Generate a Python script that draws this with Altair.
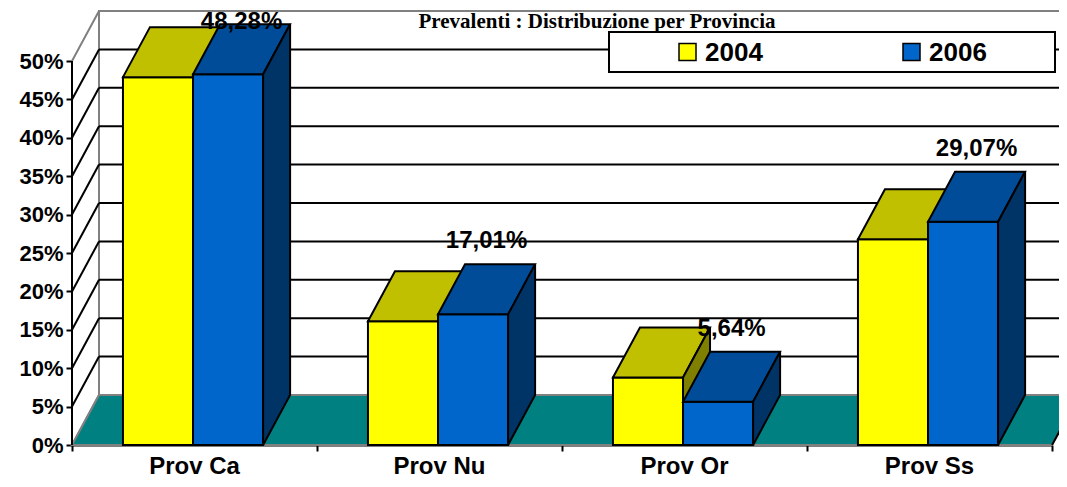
import altair as alt
import pandas as pd

# ---------------- data ----------------
categories = ["Prov Ca", "Prov Nu", "Prov Or", "Prov Ss"]
years = ["2004", "2006"]
values_2004 = [47.9, 16.1, 8.8, 26.8]
values_2006 = [48.28, 17.01, 5.64, 29.07]
labels_2006 = ["48,28%", "17,01%", "5,64%", "29,07%"]
y_ticks = [0, 5, 10, 15, 20, 25, 30, 35, 40, 45, 50]
title_text = "Prevalenti : Distribuzione per Provincia"

# ---------------- geometry / style ----------------
W, H = 980, 437
N = len(categories)
PX_PER_CAT = W / N
PX_PER_PCT = 7.68
Y_TOP = H / PX_PER_PCT
Y_MAX = y_ticks[-1]
BAR_START = 0.208
BAR_W = 0.286
DX = 27 / PX_PER_CAT       # depth offset in category units
DY = 50 / PX_PER_PCT       # depth offset in value units
LABEL_RAISE = 9.5

FACES = {
    "2004": ("#FFFF00", "#C0C000", "#808000"),
    "2006": ("#0066CC", "#004C99", "#003366"),
}
series = {"2004": values_2004, "2006": values_2006}

FONT = "Liberation Sans"

# legend box layout (plot-area pixels)
LEG_X, LEG_Y, LEG_W, LEG_H = 537, 24, 446, 40
LEG_ENTRY = [70, 294]
LEG_SYM = 17
LEG_GAP = 9


def px2x(px):
    return px / PX_PER_CAT


def px2y(py):
    return (H - py) / PX_PER_PCT


xs = alt.Scale(domain=[0, N], nice=False, zero=False)
ys = alt.Scale(domain=[0, Y_TOP], nice=False, zero=False)

x_axis = alt.Axis(values=list(range(N + 1)), labels=False, title=None, grid=False,
                  domainColor="black", domainWidth=2, tickColor="black",
                  tickWidth=2, tickSize=6)
y_axis = alt.Axis(values=y_ticks, labelExpr="datum.value + '%'", title=None, grid=False,
                  domain=False, tickColor="black", tickWidth=2, tickSize=6,
                  labelFont=FONT, labelFontSize=22, labelFontWeight="bold",
                  labelColor="black", labelPadding=3, labelFlush=False)


def X(f="x"):
    return alt.X(f"{f}:Q", scale=xs, axis=x_axis)


def Y(f="y"):
    return alt.Y(f"{f}:Q", scale=ys, axis=y_axis, stack=None)


layers = []

# back wall
back = pd.DataFrame([{"x": DX, "x2": N + DX, "y": DY, "y2": Y_MAX + DY}])
layers.append(alt.Chart(back).mark_rect(fill="white", stroke="#808080", strokeWidth=2)
              .encode(x=X(), x2="x2:Q", y=Y(), y2="y2:Q"))

# left wall
lw = pd.DataFrame([{"x": 0, "y": 0, "y2": Y_MAX}, {"x": DX, "y": DY, "y2": Y_MAX + DY}])
layers.append(alt.Chart(lw).mark_area(fill="white", stroke="#808080", strokeWidth=2)
              .encode(x=X(), y=Y(), y2="y2:Q"))

# gridlines on back wall
grid = pd.DataFrame([{"x": DX, "x2": N + DX, "y": v + DY} for v in y_ticks[1:-1]])
layers.append(alt.Chart(grid).mark_rule(color="black", strokeWidth=2)
              .encode(x=X(), x2="x2:Q", y=Y()))

# floor
floor = pd.DataFrame([
    {"x": 0, "y": 0, "y2": 0},
    {"x": DX, "y": 0, "y2": DY},
    {"x": N, "y": 0, "y2": DY},
    {"x": N + DX, "y": DY, "y2": DY},
])
layers.append(alt.Chart(floor).mark_area(fill="#008080", stroke="#808080", strokeWidth=2)
              .encode(x=X(), y=Y(), y2="y2:Q"))

# diagonals on the left wall
diag = pd.DataFrame([{"x": 0, "x2": DX, "y": v, "y2": v + DY} for v in y_ticks[1:-1]])
layers.append(alt.Chart(diag).mark_rule(color="black", strokeWidth=2)
              .encode(x=X(), x2="x2:Q", y=Y(), y2="y2:Q"))

# floor right edge
fre = pd.DataFrame([{"x": N, "x2": N + DX, "y": 0, "y2": DY}])
layers.append(alt.Chart(fre).mark_rule(color="black", strokeWidth=2)
              .encode(x=X(), x2="x2:Q", y=Y(), y2="y2:Q"))

# front value axis line
fa = pd.DataFrame([{"x": 0, "y": 0, "y2": Y_MAX}])
layers.append(alt.Chart(fa).mark_rule(color="black", strokeWidth=2)
              .encode(x=X(), y=Y(), y2="y2:Q"))

# bars (drawn back-to-front: all 2004 bars, then all 2006 bars)
for j, yr in enumerate(years):
    vals = series[yr]
    front, top, side = [], [], []
    for i, v in enumerate(vals):
        x0 = i + BAR_START + j * BAR_W
        x1 = x0 + BAR_W
        front.append({"x": x0, "x2": x1, "y": 0, "y2": v})
        top += [
            {"bar": i, "x": x0, "y": v, "y2": v},
            {"bar": i, "x": x0 + DX, "y": v, "y2": v + DY},
            {"bar": i, "x": x1, "y": v, "y2": v + DY},
            {"bar": i, "x": x1 + DX, "y": v + DY, "y2": v + DY},
        ]
        side += [
            {"bar": i, "x": x1, "y": 0, "y2": v},
            {"bar": i, "x": x1 + DX, "y": DY, "y2": v + DY},
        ]
    layers.append(alt.Chart(pd.DataFrame(front)).mark_rect(fill=FACES[yr][0], stroke="black", strokeWidth=2)
                  .encode(x=X(), x2="x2:Q", y=Y(), y2="y2:Q"))
    layers.append(alt.Chart(pd.DataFrame(top)).mark_area(fill=FACES[yr][1], stroke="black", strokeWidth=2)
                  .encode(x=X(), y=Y(), y2="y2:Q", detail="bar:N"))
    layers.append(alt.Chart(pd.DataFrame(side)).mark_area(fill=FACES[yr][2], stroke="black", strokeWidth=2)
                  .encode(x=X(), y=Y(), y2="y2:Q", detail="bar:N"))

# value labels (2006)
lab = pd.DataFrame([
    {"x": i + BAR_START + 1.5 * BAR_W + DX / 2,
     "y": min(v + LABEL_RAISE, Y_TOP - 1.85),
     "t": t}
    for i, (v, t) in enumerate(zip(values_2006, labels_2006))
])
layers.append(alt.Chart(lab).mark_text(font=FONT, fontSize=24, fontWeight="bold",
                                       color="black", baseline="middle")
              .encode(x=X(), y=Y(), text="t:N"))

# category labels
cl = pd.DataFrame([{"x": i + 0.5, "t": c} for i, c in enumerate(categories)])
layers.append(alt.Chart(cl).mark_text(font=FONT, fontSize=24, fontWeight="bold",
                                      color="black", baseline="alphabetic")
              .encode(x=X(), y=alt.value(H + 29), text="t:N"))

# legend (box, swatches, labels)
box = pd.DataFrame([{"x": px2x(LEG_X), "x2": px2x(LEG_X + LEG_W),
                     "y": px2y(LEG_Y), "y2": px2y(LEG_Y + LEG_H)}])
layers.append(alt.Chart(box).mark_rect(fill="white", stroke="black", strokeWidth=2)
              .encode(x=X(), x2="x2:Q", y=Y(), y2="y2:Q"))
cy = LEG_Y + LEG_H / 2
sw = pd.DataFrame([{"x": px2x(LEG_X + off), "x2": px2x(LEG_X + off + LEG_SYM),
                    "y": px2y(cy - LEG_SYM / 2), "y2": px2y(cy + LEG_SYM / 2),
                    "c": FACES[yr][0]} for yr, off in zip(years, LEG_ENTRY)])
layers.append(alt.Chart(sw).mark_rect(stroke="black", strokeWidth=1.5)
              .encode(x=X(), x2="x2:Q", y=Y(), y2="y2:Q", fill=alt.Fill("c:N", scale=None)))
lt = pd.DataFrame([{"x": px2x(LEG_X + off + LEG_SYM + LEG_GAP), "y": px2y(cy + 1), "t": yr}
                   for yr, off in zip(years, LEG_ENTRY)])
layers.append(alt.Chart(lt).mark_text(font=FONT, fontSize=26, fontWeight="bold",
                                      color="black", align="left", baseline="middle")
              .encode(x=X(), y=Y(), text="t:N"))

chart = alt.layer(*layers).properties(
    width=W, height=H,
    autosize=alt.AutoSizeParams(type="none"),
    padding={"left": 64, "top": 0, "right": 7, "bottom": 34},
    title=alt.TitleParams(text=title_text, font="Liberation Serif", fontSize=21,
                          fontWeight="bold", color="black", anchor="middle",
                          dx=35, offset=-25, frame="group"),
).configure_view(stroke=None)

chart.save("out.html", embed_options={"renderer": "svg", "actions": False})
